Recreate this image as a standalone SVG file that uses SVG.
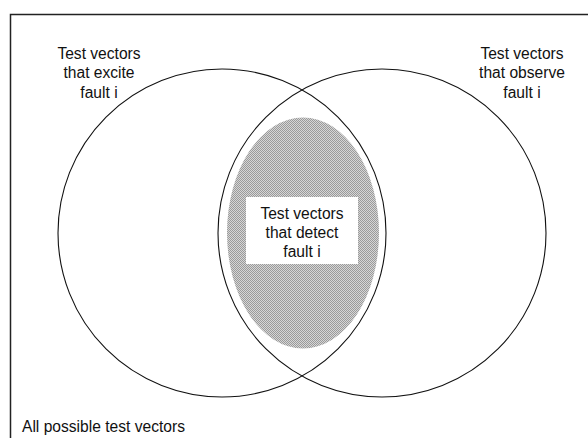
<svg xmlns="http://www.w3.org/2000/svg" width="588" height="438" viewBox="0 0 588 438">
  <style>
    .lbl { font-family: "Liberation Sans", Arial, sans-serif; font-size: 15.6px; fill: #111; text-anchor: middle; }
    .set { fill: none; stroke: #111; stroke-width: 1.1; }
  </style>
  <defs>
    <!-- fine stipple used for the intersection region -->
    <pattern id="stipple" width="2" height="2" patternUnits="userSpaceOnUse">
      <rect width="2" height="2" fill="#d6d6d6"/>
      <rect width="1" height="1" fill="#9a9a9a"/>
      <rect x="1" y="1" width="1" height="1" fill="#9a9a9a"/>
    </pattern>
  </defs>
  <rect width="588" height="438" fill="#fff"/>

  <!-- universe frame -->
  <g id="universe">
    <path d="M10.5,438 V14.5 H588" fill="none" stroke="#222" stroke-width="1.5"/>
    <text class="lbl" x="22" y="432" style="text-anchor:start">All possible test vectors</text>
  </g>

  <!-- detected set -->
  <g id="detect">
    <ellipse cx="303" cy="233" rx="76" ry="115.5" fill="url(#stipple)"/>
    <rect x="246" y="197" width="112" height="67" fill="#fff"/>
    <text class="lbl" x="302" y="219">Test vectors</text>
    <text class="lbl" x="302" y="238">that detect</text>
    <text class="lbl" x="302" y="257">fault i</text>
  </g>

  <g id="excite">
    <circle class="set" cx="222" cy="233" r="164"/>
    <text class="lbl" x="99" y="58.5">Test vectors</text>
    <text class="lbl" x="99" y="78">that excite</text>
    <text class="lbl" x="99" y="97.5">fault i</text>
  </g>

  <g id="observe">
    <circle class="set" cx="382" cy="233" r="164"/>
    <text class="lbl" x="522" y="58.5">Test vectors</text>
    <text class="lbl" x="522" y="78">that observe</text>
    <text class="lbl" x="522" y="97.5">fault i</text>
  </g>
</svg>
